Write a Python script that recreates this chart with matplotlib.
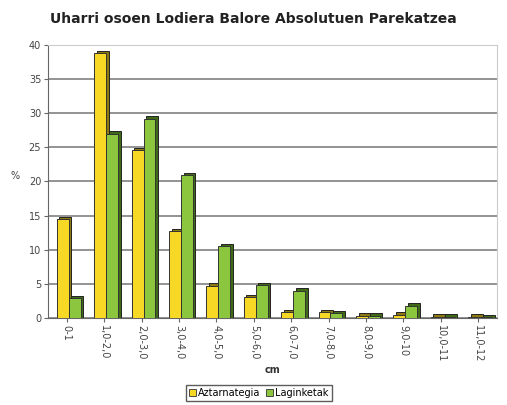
import matplotlib.pyplot as plt
import numpy as np

categories = ["0-1", "1,0-2,0", "2,0-3,0", "3,0-4,0", "4,0-5,0", "5,0-6,0",
              "6,0-7,0", "7,0-8,0", "8,0-9,0", "9,0-10", "10,0-11", "11,0-12"]
aztarnategia = [14.5, 38.8, 24.6, 12.7, 4.7, 3.0, 0.8, 0.8, 0.3, 0.5, 0.2, 0.2]
laginketak = [2.9, 27.0, 29.2, 20.9, 10.5, 4.8, 4.0, 0.7, 0.3, 1.8, 0.2, 0.1]
yticks = [0, 5, 10, 15, 20, 25, 30, 35, 40]

fig = plt.figure(figsize=(5.07, 4.05), dpi=100)
ax = fig.add_axes([0.095, 0.215, 0.885, 0.674])

x = np.arange(len(categories))
w = 0.32
dx, dy = 0.07, 0.45


def draw_bars(offset, values, face, side):
    # shadow/side face first to fake the 3D look
    ax.bar(x + offset + dx, np.array(values) + dy, w, bottom=-dy * 0.2,
           color=side, edgecolor="#222222", linewidth=0.7, zorder=2)
    ax.bar(x + offset, values, w, color=face, edgecolor="#333333",
           linewidth=0.7, zorder=3)


draw_bars(-w / 2 + 0.05, aztarnategia, "#F7D824", "#8C7A10")
draw_bars(w / 2 + 0.05, laginketak, "#8CC63E", "#3F6B18")

ax.set_xlim(-0.5, len(categories) - 0.5)
ax.set_ylim(0, 40)
ax.set_yticks(yticks)
ax.set_yticklabels([str(v) for v in yticks], fontsize=7, color="#444444")
ax.yaxis.grid(True, color="#8a8a8a", linewidth=1.3)
ax.set_axisbelow(True)
ax.set_xticks(x)
ax.set_xticklabels(categories, rotation=270, fontsize=7, color="#444444")
ax.tick_params(axis="both", length=3, color="#666666", pad=2)
for s in ax.spines.values():
    s.set_color("#cccccc")
ax.spines["left"].set_color("#666666")
ax.spines["bottom"].set_color("#666666")

ax.set_ylabel("%", fontsize=7, rotation=0, labelpad=10, color="#444444")
ax.set_xlabel("cm", fontsize=7, fontweight="bold", color="#333333", labelpad=2)

fig.suptitle("Uharri osoen Lodiera Balore Absolutuen Parekatzea",
             x=0.5, y=0.97, fontsize=10, fontweight="bold", color="#222222")

handles = [plt.Rectangle((0, 0), 1, 1, facecolor="#F7D824", edgecolor="#333333", linewidth=0.6),
           plt.Rectangle((0, 0), 1, 1, facecolor="#8CC63E", edgecolor="#333333", linewidth=0.6)]
fig.legend(handles, ["Aztarnategia", "Laginketak"], loc="center",
           bbox_to_anchor=(0.51, 0.03), ncol=2, fontsize=7, frameon=True,
           fancybox=False, edgecolor="#333333", handlelength=0.8, handleheight=0.8,
           handletextpad=0.2, columnspacing=0.5, borderpad=0.3)

fig.savefig("out.png", dpi=100)
